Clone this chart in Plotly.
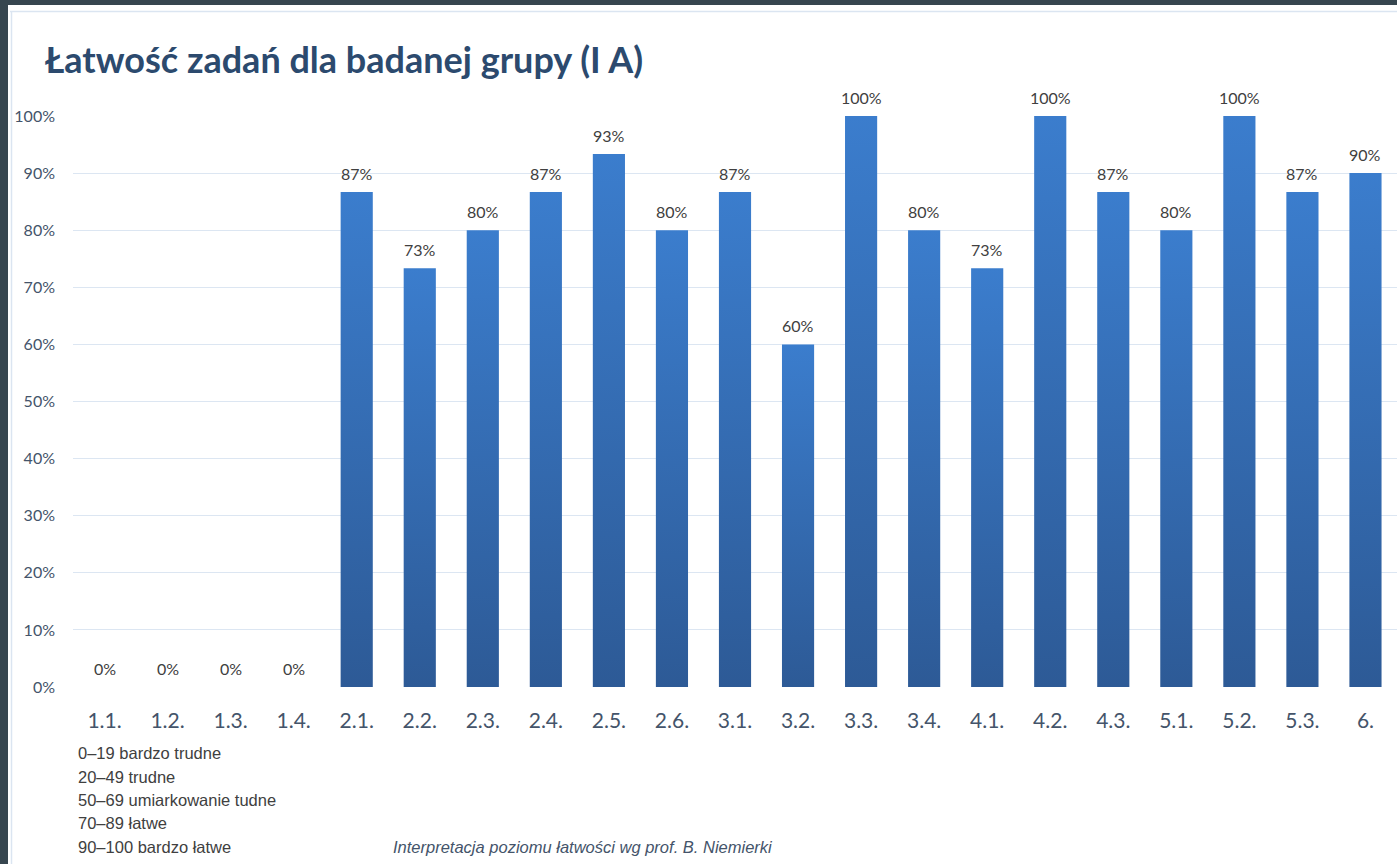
import plotly.graph_objects as go

categories = ["1.1.", "1.2.", "1.3.", "1.4.", "2.1.", "2.2.", "2.3.", "2.4.", "2.5.", "2.6.",
              "3.1.", "3.2.", "3.3.", "3.4.", "4.1.", "4.2.", "4.3.", "5.1.", "5.2.", "5.3.", "6."]
values = [0, 0, 0, 0, 86.67, 73.33, 80, 86.67, 93.33, 80,
          86.67, 60, 100, 80, 73.33, 100, 86.67, 80, 100, 86.67, 90]
y_ticks = [0, 10, 20, 30, 40, 50, 60, 70, 80, 90, 100]
footer_lines = ["0\u201319 bardzo trudne", "20\u201349 trudne", "50\u201369 umiarkowanie tudne",
                "70\u201389 łatwe", "90\u2013100 bardzo łatwe"]
source_note = "Interpretacja poziomu łatwości wg prof. B. Niemierki"
title_text = "Łatwość zadań dla badanej grupy (I A)"

W, H = 1397, 864
L, R, T, B = 73, 0, 116, 177
PW, PH = W - L - R, H - T - B


def px_x(p):
    return (p - L) / PW


def px_y(p):
    return (H - B - p) / PH


bar_w = 0.51
fig = go.Figure()
for i, v in enumerate(values):
    fig.add_trace(go.Scatter(
        x=[i - bar_w / 2, i + bar_w / 2, i + bar_w / 2, i - bar_w / 2, i - bar_w / 2],
        y=[0, 0, v, v, 0],
        mode="lines", fill="toself", line=dict(width=0),
        fillgradient=dict(type="vertical", colorscale=[[0, "#2d5a96"], [1, "#3b7dcd"]]),
        hoverinfo="skip", showlegend=False,
    ))

annotations = []
for i, v in enumerate(values):
    annotations.append(dict(x=i, y=v, xref="x", yref="y", text=f"{round(v)}%",
                            showarrow=False, yanchor="middle", yshift=19,
                            font=dict(family="Lato", size=16, color="#404040")))

annotations.append(dict(x=px_x(43), y=px_y(59), xref="paper", yref="paper", text=f"<b>{title_text}</b>",
                        showarrow=False, xanchor="left", yanchor="middle",
                        font=dict(family="Lato", size=36, color="#2c4a6e")))

for k, line in enumerate(footer_lines):
    annotations.append(dict(x=px_x(76), y=px_y(753 + k * 23.5), xref="paper", yref="paper", text=line,
                            showarrow=False, xanchor="left", yanchor="middle",
                            font=dict(family="Liberation Sans", size=16.5, color="#404040")))
annotations.append(dict(x=px_x(391), y=px_y(847), xref="paper", yref="paper", text=f"<i>{source_note}</i>",
                        showarrow=False, xanchor="left", yanchor="middle",
                        font=dict(family="Liberation Sans", size=16.5, color="#44546a")))

dark = "#37464f"
edge = "#dbe5f1"
shapes = [
    dict(type="rect", xref="paper", yref="paper", x0=px_x(0), x1=px_x(W), y0=px_y(0), y1=px_y(5),
         fillcolor=dark, line=dict(width=0), layer="above"),
    dict(type="rect", xref="paper", yref="paper", x0=px_x(0), x1=px_x(8), y0=px_y(0), y1=px_y(H),
         fillcolor=dark, line=dict(width=0), layer="above"),
    dict(type="line", xref="paper", yref="paper", x0=px_x(10), x1=px_x(W), y0=px_y(11.5), y1=px_y(11.5),
         line=dict(color=edge, width=1.5), layer="above"),
    dict(type="line", xref="paper", yref="paper", x0=px_x(11.5), x1=px_x(11.5), y0=px_y(11), y1=px_y(H),
         line=dict(color=edge, width=1.5), layer="above"),
]

fig.update_layout(
    width=W, height=H,
    margin=dict(l=L, r=R, t=T, b=B, pad=0),
    paper_bgcolor="white", plot_bgcolor="white",
    showlegend=False,
    annotations=annotations,
    shapes=shapes,
    xaxis=dict(range=[-0.5, len(categories) - 0.5], tickmode="array",
               tickvals=list(range(len(categories))), ticktext=categories,
               showgrid=False, zeroline=False, showline=False, ticks="",
               ticklabelstandoff=19,
               tickfont=dict(family="Lato", size=21, color="#44546a"), fixedrange=True),
    yaxis=dict(range=[0, 100], tickmode="array", tickvals=y_ticks,
               ticktext=[f"{t}%" for t in y_ticks],
               showgrid=True, gridcolor="#dce6f2", gridwidth=1,
               zeroline=False, showline=False, ticks="",
               ticklabelstandoff=17,
               tickfont=dict(family="Lato", size=16, color="#44546a"), fixedrange=True),
)

fig.write_html("out.html", config={"displayModeBar": False},
               post_script="document.body.style.margin='0';document.body.style.padding='0';"
                           "document.body.style.overflow='hidden';")
